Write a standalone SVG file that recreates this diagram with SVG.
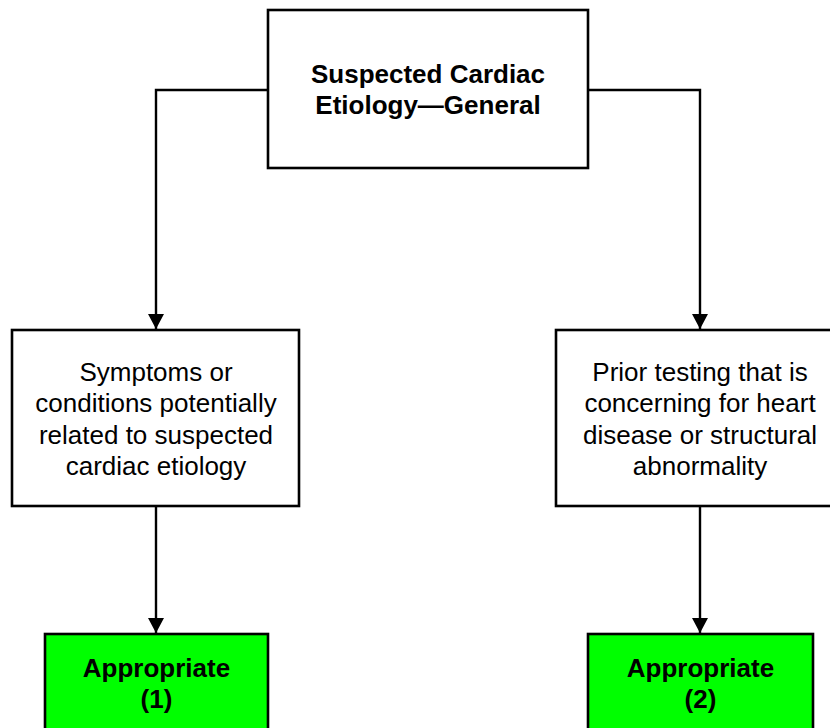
<svg xmlns="http://www.w3.org/2000/svg" width="830" height="728" viewBox="0 0 830 728">
  <style>
    .box { fill: #ffffff; stroke: #000000; stroke-width: 2.6; }
    .ok { fill: #00ff00; stroke: #000000; stroke-width: 2.6; }
    .edge { fill: none; stroke: #000000; stroke-width: 2.4; }
    text { font-family: "Liberation Sans", Arial, sans-serif; font-size: 26px; fill: #000000; text-anchor: middle; }
    .b { font-weight: bold; }
  </style>
  <defs>
    <marker id="arrow" markerUnits="userSpaceOnUse" markerWidth="17" markerHeight="17" viewBox="0 0 17 17" refX="15" refY="8.5" orient="auto">
      <path d="M0,0.5 L15,8.5 L0,16.5 Z" fill="#000000"/>
    </marker>
  </defs>
  <rect width="830" height="728" fill="#ffffff"/>

  <g id="connectors">
    <path class="edge" d="M268,90 H156 V329" marker-end="url(#arrow)"/>
    <path class="edge" d="M588,90 H700 V329" marker-end="url(#arrow)"/>
    <path class="edge" d="M156,506 V633" marker-end="url(#arrow)"/>
    <path class="edge" d="M700,506 V633" marker-end="url(#arrow)"/>
  </g>

  <g id="root">
    <rect class="box" x="268" y="10" width="320" height="158"/>
    <text class="b" x="428" y="83">Suspected Cardiac</text>
    <text class="b" x="428" y="114">Etiology—General</text>
  </g>

  <g id="symptoms">
    <rect class="box" x="12" y="330" width="287" height="176"/>
    <text x="156" y="381">Symptoms or</text>
    <text x="156" y="412">conditions potentially</text>
    <text x="156" y="444">related to suspected</text>
    <text x="156" y="475">cardiac etiology</text>
  </g>

  <g id="prior-testing">
    <rect class="box" x="556" y="330" width="288" height="176"/>
    <text x="700" y="381">Prior testing that is</text>
    <text x="700" y="412">concerning for heart</text>
    <text x="700" y="444">disease or structural</text>
    <text x="700" y="475">abnormality</text>
  </g>

  <g id="appropriate-1">
    <rect class="ok" x="45" y="634" width="223" height="110"/>
    <text class="b" x="156.5" y="677">Appropriate</text>
    <text class="b" x="156.5" y="708">(1)</text>
  </g>

  <g id="appropriate-2">
    <rect class="ok" x="588" y="634" width="225" height="110"/>
    <text class="b" x="700.5" y="677">Appropriate</text>
    <text class="b" x="700.5" y="708">(2)</text>
  </g>
</svg>
